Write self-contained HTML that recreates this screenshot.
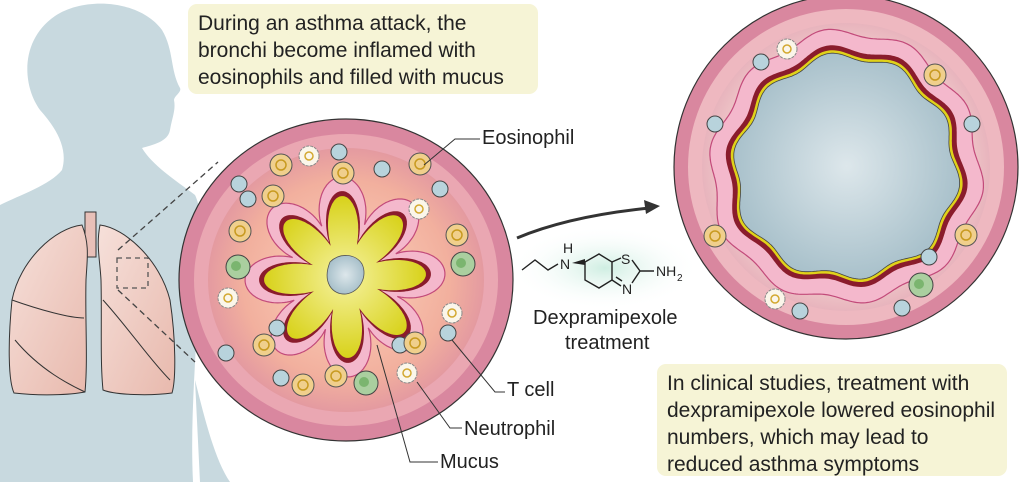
<!DOCTYPE html>
<html><head><meta charset="utf-8">
<style>
html,body{margin:0;padding:0;background:#fff;}
body{width:1024px;height:482px;overflow:hidden;position:relative;font-family:"Liberation Sans",sans-serif;}
.box{position:absolute;background:#f6f4d6;border-radius:9px;color:#222;font-size:21px;line-height:27px;}
.lbl{position:absolute;font-size:20px;color:#222;}
svg{position:absolute;left:0;top:0;}
</style></head><body>
<svg id="s" width="1024" height="482" viewBox="0 0 1024 482">
<defs>
<radialGradient id="inL" cx="0.5" cy="0.5" r="0.5"><stop offset="0" stop-color="#fcd3bd"/><stop offset="0.75" stop-color="#f2b09e"/><stop offset="1" stop-color="#e49aa0"/></radialGradient>
<radialGradient id="inR" cx="0.5" cy="0.5" r="0.5"><stop offset="0" stop-color="#f8e0da"/><stop offset="0.75" stop-color="#f3d2cf"/><stop offset="1" stop-color="#e8b4bd"/></radialGradient>
<radialGradient id="lum" cx="0.5" cy="0.5" r="0.5"><stop offset="0" stop-color="#dde7eb"/><stop offset="1" stop-color="#a9c1cb"/></radialGradient>
<radialGradient id="muc" cx="0.5" cy="0.5" r="0.5"><stop offset="0" stop-color="#f6f2a0"/><stop offset="1" stop-color="#d8d21a"/></radialGradient>
<radialGradient id="glow" cx="0.5" cy="0.5" r="0.5"><stop offset="0" stop-color="#cfeee2"/><stop offset="1" stop-color="#ffffff" stop-opacity="0"/></radialGradient>
<linearGradient id="lung" x1="0" y1="0" x2="1" y2="1"><stop offset="0" stop-color="#f6e0da"/><stop offset="1" stop-color="#e8b9ad"/></linearGradient>
</defs>
<!-- silhouette -->
<path d="M0,205 C20,195 50,185 62,170 C68,150 58,130 40,110 C22,85 20,40 55,16 C85,-4 140,0 162,30 C174,50 170,70 180,88 C182,92 174,96 174,100 C176,110 172,118 170,130 C168,142 152,145 142,148 C152,165 175,180 195,195 C205,215 200,260 198,300 C196,360 190,420 193,482 L0,482 Z" fill="#c8d9df"/>
<path d="M195,380 C205,420 215,460 230,482 L200,482 Z" fill="#c8d9df"/>
<!-- lungs -->
<g stroke="#333" stroke-width="1" fill="url(#lung)">
<rect x="85" y="212" width="11" height="45" fill="#e8c0b8"/>
<path d="M82,225 C55,228 20,260 12,300 C8,340 8,380 14,393 C40,396 70,395 85,392 C88,360 85,320 86,280 C87,260 90,245 82,225 Z"/>
<path d="M100,225 C125,228 160,260 170,300 C176,340 176,380 172,393 C150,396 115,395 103,390 C100,360 102,320 101,280 C100,260 96,245 100,225 Z"/>
<path d="M12,300 C40,310 70,318 84,318" fill="none"/>
<path d="M15,340 C40,370 70,385 85,392" fill="none"/>
<path d="M103,300 C130,330 150,360 170,380" fill="none"/>
</g>
<rect x="117" y="258" width="31" height="30" fill="none" stroke="#555" stroke-dasharray="5,4" stroke-width="1.3"/>
<line x1="118" y1="250" x2="218" y2="162" stroke="#444" stroke-dasharray="6,4" stroke-width="1.3"/>
<line x1="118" y1="290" x2="195" y2="362" stroke="#444" stroke-dasharray="6,4" stroke-width="1.3"/>
<!-- left bronchus -->
<ellipse cx="346" cy="280" rx="167" ry="161" fill="#d9879f" stroke="#333" stroke-width="1.2"/>
<ellipse cx="346" cy="280" rx="152" ry="146" fill="#eaa7b2"/>
<ellipse cx="346" cy="280" rx="138" ry="132" fill="url(#inL)"/>
<g id="Lstar"></g>
<!-- right bronchus -->
<circle cx="846" cy="167" r="172" fill="#d9879f" stroke="#333" stroke-width="1.2"/>
<circle cx="846" cy="167" r="158" fill="#eeb8c0"/>
<circle cx="846" cy="167" r="144" fill="url(#inR)"/>
<g id="Rring"></g>
<g id="cells"></g>
<!-- arrow -->
<path d="M517,238 C560,220 610,212 650,208" fill="none" stroke="#333" stroke-width="3"/>
<path d="M660,206 L644,200 L646,214 Z" fill="#333"/>
<!-- molecule -->
<ellipse cx="605" cy="268" rx="95" ry="42" fill="url(#glow)"/>
<g stroke="#222" stroke-width="1.4" fill="none">
<path d="M522,270 L535,260 L548,270 L558,264"/>
<path d="M585,262 L599,254 L612,262 L612,280 L599,288 L585,280 Z"/>
<path d="M612,262 L621,258 M632,260 L640,271 L632,283 M612,280 L621,286 M616,277 L622,281 M640,271 L654,271"/>
</g>
<path d="M572,263 L585,259 L585,265 Z" fill="#222"/>
<g font-family="Liberation Sans,sans-serif" font-size="14" fill="#222">
<text x="563" y="253">H</text><text x="560" y="269">N</text>
<text x="621" y="264">S</text><text x="622" y="294">N</text>
<text x="656" y="276">NH</text><text x="677" y="281" font-size="10">2</text>
</g>
<!-- leader lines -->
<g stroke="#333" stroke-width="1" fill="none">
<path d="M424,165 L455,139 L480,139"/>
<path d="M452,340 L495,392 L505,392"/>
<path d="M417,382 L450,428 L462,428"/>
<path d="M377,345 L410,462 L438,462"/>
</g>
</svg>
<div class="box" style="left:188px;top:4px;width:330px;height:78px;padding:6px 10px;">During an asthma attack, the bronchi become inflamed with eosinophils and filled with mucus</div>
<div class="box" style="left:657px;top:364px;width:330px;height:100px;padding:6px 10px;">In clinical studies, treatment with dexpramipexole lowered eosinophil numbers, which may lead to reduced asthma symptoms</div>
<div class="lbl" style="left:482px;top:127px;">Eosinophil</div>
<div class="lbl" style="left:507px;top:379px;">T cell</div>
<div class="lbl" style="left:464px;top:418px;">Neutrophil</div>
<div class="lbl" style="left:440px;top:451px;">Mucus</div>
<div class="lbl" style="left:533px;top:307px;">Dexpramipexole</div>
<div class="lbl" style="left:565px;top:332px;">treatment</div>
<script>
var NS="http://www.w3.org/2000/svg";
function el(p,t,a){var e=document.createElementNS(NS,t);for(var k in a)e.setAttribute(k,a[k]);p.appendChild(e);return e;}
function poly(cx,cy,f,n){var d="";for(var i=0;i<=n;i++){var t=i/n*2*Math.PI,r=f(t);d+=(i?"L":"M")+(cx+r*Math.cos(t)).toFixed(1)+","+(cy+r*Math.sin(t)).toFixed(1);}return d+"Z";}
var L=document.getElementById("Lstar");
var sh=function(t){return Math.pow((1+Math.cos(8*t+0.3))/2,0.35);};
el(L,"path",{d:poly(345,277,function(t){return 55+45*sh(t);},600),fill:"#f4b8cc",stroke:"#c24a7a","stroke-width":1.2});
el(L,"path",{d:poly(345,277,function(t){return 38+48*Math.pow((1+Math.cos(8*t+0.3))/2,0.45);},600),fill:"#8a1c2c"});
el(L,"path",{d:poly(345,277,function(t){return 34+47*Math.pow((1+Math.cos(8*t+0.3))/2,0.5);},600),fill:"url(#muc)"});
el(L,"path",{d:"M330,262 C340,252 356,254 362,264 C368,276 360,292 346,294 C332,295 322,282 330,262Z",fill:"url(#lum)",stroke:"#555","stroke-width":0.8});
var R=document.getElementById("Rring");
var w=function(t){return 4*Math.sin(10*t)+2*Math.sin(3*t);};
el(R,"path",{d:poly(846,168,function(t){return 134+w(t);},400),fill:"#f4b8cc",stroke:"#c24a7a","stroke-width":1.2});
el(R,"path",{d:poly(846,168,function(t){return 118+w(t);},400),fill:"#8a1c2c"});
el(R,"path",{d:poly(846,168,function(t){return 113+w(t);},400),fill:"#e0d21a"});
el(R,"path",{d:poly(846,168,function(t){return 110+w(t);},400),fill:"url(#lum)",stroke:"#444","stroke-width":0.8});
var C=document.getElementById("cells");
function tc(x,y){el(C,"circle",{cx:x,cy:y,r:8,fill:"#b8d3dc",stroke:"#444","stroke-width":1});}
function eo(x,y){el(C,"circle",{cx:x,cy:y,r:11,fill:"#f0cf8c",stroke:"#555","stroke-width":1});el(C,"circle",{cx:x,cy:y,r:5,fill:"none",stroke:"#c89a20","stroke-width":1.5});}
function ne(x,y){el(C,"circle",{cx:x,cy:y,r:10,fill:"#fbf6ea",stroke:"#888","stroke-width":1,"stroke-dasharray":"3,1"});el(C,"circle",{cx:x,cy:y,r:4,fill:"none",stroke:"#d3a830","stroke-width":1.5});}
function ma(x,y){el(C,"circle",{cx:x,cy:y,r:12,fill:"#aacf9f",stroke:"#444","stroke-width":1});el(C,"circle",{cx:x-2,cy:y-1,r:5,fill:"#7bb56f"});}
[[339,152],[382,169],[239,184],[248,199],[440,189],[226,353],[277,328],[448,333],[400,345],[281,378]].forEach(function(p){tc(p[0],p[1]);});
[[281,165],[343,173],[420,164],[273,196],[240,231],[457,235],[264,345],[415,343],[303,385],[336,376]].forEach(function(p){eo(p[0],p[1]);});
[[309,156],[419,209],[228,298],[452,313],[407,373]].forEach(function(p){ne(p[0],p[1]);});
[[238,267],[463,264],[366,383]].forEach(function(p){ma(p[0],p[1]);});
[[761,62],[715,124],[972,124],[929,257],[800,311],[902,308]].forEach(function(p){tc(p[0],p[1]);});
[[935,75],[715,236],[966,235]].forEach(function(p){eo(p[0],p[1]);});
[[787,49],[775,299]].forEach(function(p){ne(p[0],p[1]);});
ma(921,285);
</script>
</body></html>
